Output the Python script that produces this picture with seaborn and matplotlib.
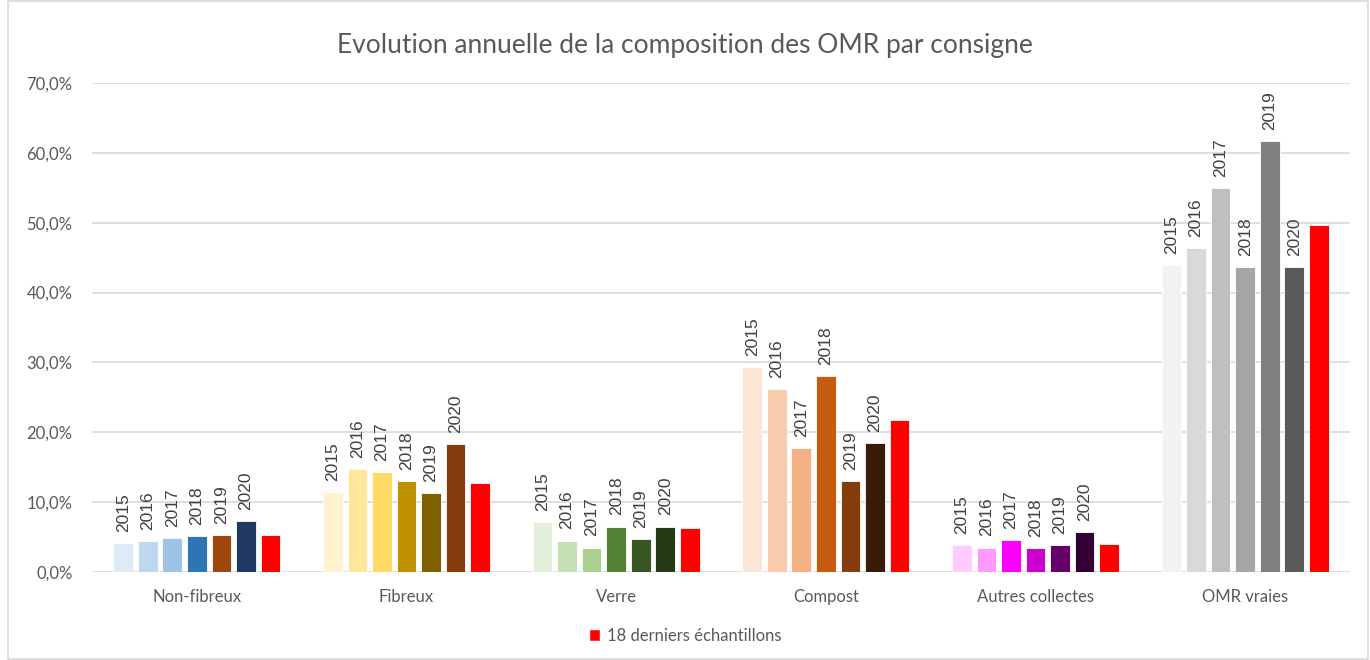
from matplotlib import pyplot as plt
from matplotlib.patches import Rectangle, Patch
from matplotlib.ticker import FuncFormatter
import pandas as pd
import seaborn as sns

categories = ["Non-fibreux", "Fibreux", "Verre", "Compost", "Autres collectes", "OMR vraies"]
series = ["2015", "2016", "2017", "2018", "2019", "2020", "18 derniers échantillons"]

v2015 = [4.2, 11.4, 7.2, 29.4, 3.8, 43.9]
v2016 = [4.4, 14.7, 4.5, 26.2, 3.5, 46.4]
v2017 = [4.9, 14.3, 3.5, 17.8, 4.6, 54.9]
v2018 = [5.1, 13.0, 6.5, 28.1, 3.4, 43.7]
v2019 = [5.25, 11.3, 4.7, 13.0, 3.8, 61.7]
v2020 = [7.3, 18.3, 6.5, 18.4, 5.7, 43.7]
v_last18 = [5.35, 12.7, 6.35, 21.8, 4.0, 49.7]

# one colour ramp per category (2015 -> 2020, then the red sample bar)
colors = {
    "Non-fibreux": ["#DEEBF7", "#BDD7EE", "#9DC3E6", "#2E75B6", "#9E480E", "#1F3864", "#FF0000"],
    "Fibreux": ["#FFF2CC", "#FFE699", "#FFD966", "#BF9000", "#7F6000", "#843C0C", "#FF0000"],
    "Verre": ["#E2EFDA", "#C6E0B4", "#A9D08E", "#548235", "#375623", "#263A18", "#FF0000"],
    "Compost": ["#FBE5D6", "#F8CBAD", "#F4B183", "#C55A11", "#843C0C", "#3A1A08", "#FF0000"],
    "Autres collectes": ["#FFCCFF", "#FF99FF", "#FF00FF", "#CC00CC", "#660066", "#330033", "#FF0000"],
    "OMR vraies": ["#F2F2F2", "#D9D9D9", "#BFBFBF", "#A6A6A6", "#808080", "#595959", "#FF0000"],
}

values = [v2015, v2016, v2017, v2018, v2019, v2020, v_last18]
rows = []
for s, vals in zip(series, values):
    for c, v in zip(categories, vals):
        rows.append({"categorie": c, "serie": s, "valeur": v / 100})
df = pd.DataFrame(rows)

sns.set_style("white")
plt.rcParams["font.family"] = ["Lato", "DejaVu Sans"]

fig = plt.figure(figsize=(13.7, 6.6), dpi=100)
ax = fig.add_axes([92 / 1370, 1 - 572 / 660, 1258 / 1370, 489 / 660])

sns.barplot(data=df, x="categorie", y="valeur", hue="serie", order=categories,
            hue_order=series, width=0.82, gap=0.2, ax=ax, legend=False,
            palette=["#999999"] * len(series), saturation=1, errorbar=None)

for j, cont in enumerate(ax.containers):
    for i, bar in enumerate(cont):
        bar.set_facecolor(colors[categories[i]][j])
        bar.set_edgecolor("white")
        bar.set_linewidth(0.6)
    if j < 6:
        for bar in cont:
            ax.annotate(series[j], (bar.get_x() + bar.get_width() / 2, bar.get_height()),
                        xytext=(0, 8), textcoords="offset points", rotation=90,
                        ha="center", va="bottom", fontsize=12.5, color="#404040",
                        family=["Liberation Sans", "DejaVu Sans"])

ax.set_xlim(-0.5, 5.5)
ax.set_ylim(0, 0.7)
ax.set_yticks([i / 10 for i in range(8)])
ax.yaxis.set_major_formatter(FuncFormatter(lambda y, _: f"{y * 100:.1f}%".replace(".", ",")))
ax.grid(axis="y", color="#D9D9D9", linewidth=1.2)
ax.set_axisbelow(True)
for sp in ax.spines.values():
    sp.set_visible(False)
ax.tick_params(axis="both", length=0, labelsize=12, colors="#595959", pad=14)
ax.tick_params(axis="x", pad=12)
ax.set_xlabel("")
ax.set_ylabel("")

fig.text(0.5, 1 - 45 / 660, "Evolution annuelle de la composition des OMR par consigne",
         ha="center", va="center", fontsize=19, color="#595959")

fig.legend(handles=[Patch(facecolor="#FF0000", label="18 derniers échantillons")],
           loc="center", bbox_to_anchor=(0.5, 1 - 636 / 660), frameon=False,
           fontsize=12, labelcolor="#595959", handlelength=0.7, handleheight=0.7,
           handletextpad=0.4)

fig.patches.append(Rectangle((8 / 1370, 0.002), 1 - 10 / 1370, 0.997, transform=fig.transFigure,
                             fill=False, edgecolor="#D9D9D9", linewidth=1.2))

fig.savefig("out.png", dpi=100)
